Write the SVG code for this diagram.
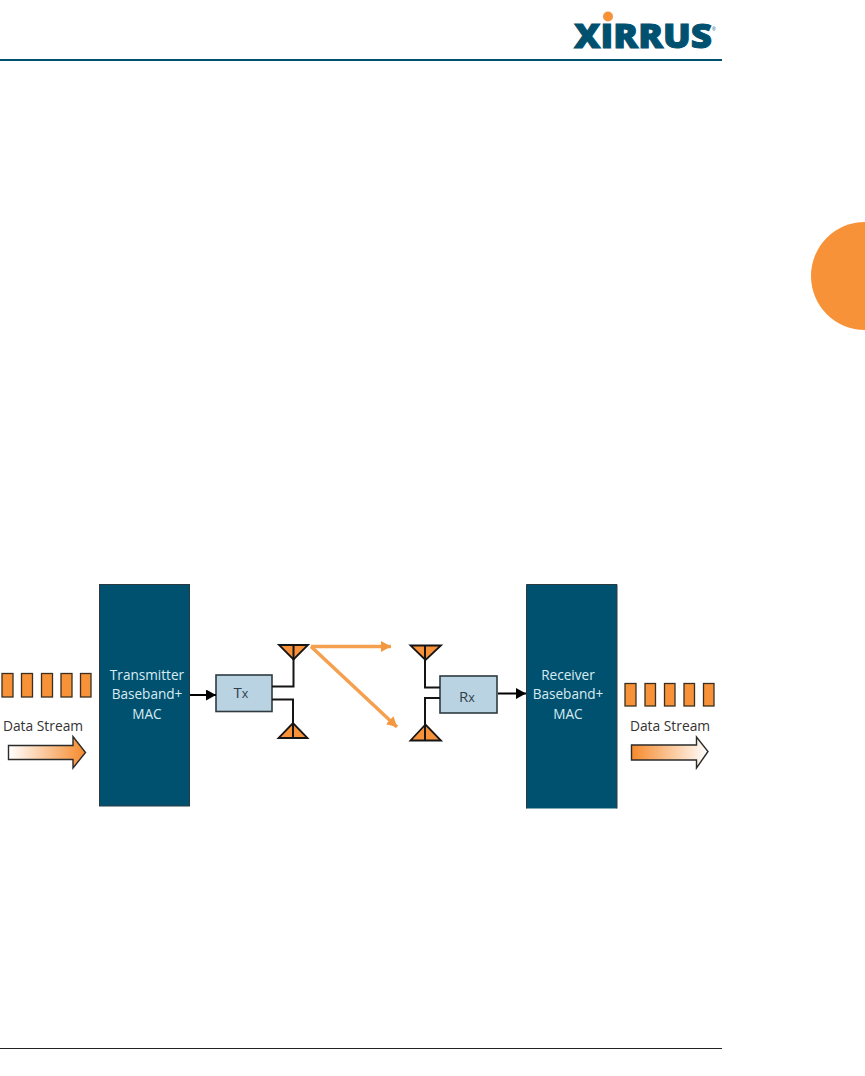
<svg xmlns="http://www.w3.org/2000/svg" width="865" height="1076" viewBox="0 0 865 1076">
<style>
text{font-family:"Open Sans","Noto Sans","Liberation Sans",sans-serif}
.blk{fill:#00506f;stroke:#2a3a40;stroke-width:1}
.bt{fill:#d8ecf2;font-size:13.6px;text-anchor:middle}
.box{fill:#b9d3e2;stroke:#2f3b40;stroke-width:1.6}
.bx{fill:#2f3f4a;font-size:15px;text-anchor:middle}
.bx tspan{font-size:12.500px}
.sq{fill:#f79239;stroke:#3b3020;stroke-width:1.3}
.ds{fill:#333;font-size:13.800px;text-anchor:middle}
.tri{fill:#f79239;stroke:#151515;stroke-width:1.8;stroke-linejoin:miter}
.w{fill:none;stroke:#151515;stroke-width:2}
.k{fill:none;stroke:#000;stroke-width:2}
.o{fill:none;stroke:#f4a04f;stroke-width:3.500}
.fa{stroke:#2b2b2b;stroke-width:1.4}
</style>
<defs>
<linearGradient id="gr"><stop offset="0" stop-color="#fff"/><stop offset="1" stop-color="#f58a2c"/></linearGradient>
<linearGradient id="gl"><stop offset="0" stop-color="#f58a2c"/><stop offset="1" stop-color="#fff"/></linearGradient>
<marker id="ka" markerUnits="userSpaceOnUse" markerWidth="11" markerHeight="12" refX="10" refY="5.5" orient="auto"><path d="M0 0L10 5.5L0 11Z" fill="#000"/></marker>
<marker id="oa" markerUnits="userSpaceOnUse" markerWidth="11" markerHeight="12" refX="10" refY="5.5" orient="auto"><path d="M0 0L10 5.5L0 11Z" fill="#f4983f"/></marker>
</defs>
<g id="page">
<rect x="0" y="59" width="722" height="2" fill="#00506f"/>
<rect x="0" y="1048" width="722" height="1" fill="#222"/>
<circle cx="865" cy="276" r="54" fill="#f79239"/>
</g>
<g id="logo">
<circle cx="608" cy="16.5" r="5" fill="#f79239"/>
<text x="574" y="47.500" font-size="33" font-weight="800" fill="#00506f" stroke="#00506f" stroke-width="1" textLength="138" lengthAdjust="spacingAndGlyphs" style="font-family:'Open Sans','Liberation Sans',sans-serif">XIRRUS</text>
<text x="712" y="31" font-size="5" fill="#00506f" style="font-family:'Liberation Sans',sans-serif">®</text>
</g>
<g id="tx-base"><rect class="blk" x="99.5" y="584.5" width="90" height="221.5"/>
<text class="bt" x="147" y="680">Transmitter</text><text class="bt" x="147" y="699">Baseband+</text><text class="bt" x="147" y="719">MAC</text></g>
<g id="rx-base"><path class="blk" d="M526.5 808.5V584.5H617V808.5"/>
<text class="bt" x="568" y="680">Receiver</text><text class="bt" x="568" y="699">Baseband+</text><text class="bt" x="568" y="719">MAC</text></g>
<g id="tx"><rect class="box" x="216" y="675" width="56" height="36.500"/><text class="bx" x="241" y="698">T<tspan>x</tspan></text></g>
<g id="rx"><rect class="box" x="440" y="676" width="57" height="37"/><text class="bx" x="467" y="701.500">R<tspan>x</tspan></text></g>
<g id="connectors">
<path class="k" d="M190 695H216" marker-end="url(#ka)"/>
<path class="k" d="M498 693.500H526" marker-end="url(#ka)"/>
<path class="w" d="M293.500 645V686.500H272"/>
<path class="w" d="M272 699.500H293V738"/>
<path class="w" d="M425 646V687.500H440"/>
<path class="w" d="M440 698H425V741"/>
<path class="o" d="M311 646.500H391" marker-end="url(#oa)"/>
<path class="o" d="M311 646.500L397 727" marker-end="url(#oa)"/>
</g>
<g id="ant-t1"><path class="tri" d="M279 645H308L293.500 659.500Z"/><path class="w" d="M293.500 645V660"/></g>
<g id="ant-t2"><path class="tri" d="M278.500 738H307.500L293 723Z"/><path class="w" d="M293 723V738"/></g>
<g id="ant-r1"><path class="tri" d="M410.500 645.500H441L425.500 660Z"/><path class="w" d="M425 645.500V660"/></g>
<g id="ant-r2"><path class="tri" d="M410.500 740.500H441L425.500 724.500Z"/><path class="w" d="M425 724.500V740.500"/></g>
<g id="stream-in">
<rect class="sq" x="2" y="673.500" width="11" height="23.500"/><rect class="sq" x="21.500" y="673.500" width="11" height="23.500"/><rect class="sq" x="41.500" y="673.500" width="11" height="23.500"/><rect class="sq" x="61" y="673.500" width="11" height="23.500"/><rect class="sq" x="80.500" y="673.500" width="10.500" height="23.500"/>
<text class="ds" x="43" y="731">Data Stream</text>
<path class="fa" fill="url(#gr)" d="M8.500 745.500H73V736.500L85.500 752.500L73 768V759.500H8.500Z"/></g>
<g id="stream-out">
<rect class="sq" x="625" y="683.500" width="11" height="22.500"/><rect class="sq" x="645" y="683.500" width="10.500" height="22.500"/><rect class="sq" x="664.500" y="683.500" width="10.500" height="22.500"/><rect class="sq" x="684" y="683.500" width="10.500" height="22.500"/><rect class="sq" x="703.500" y="683.500" width="10.500" height="22.500"/>
<text class="ds" x="670" y="731">Data Stream</text>
<path class="fa" fill="url(#gl)" d="M631.500 745H696.500V737L708 751.500L696.500 768V760H631.500Z"/></g>
</svg>
